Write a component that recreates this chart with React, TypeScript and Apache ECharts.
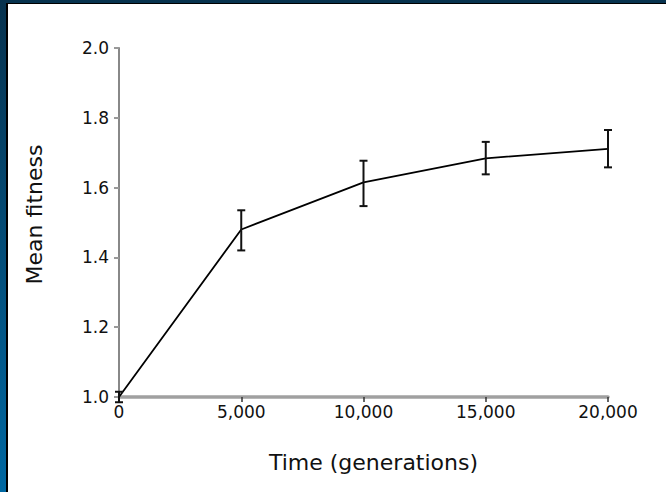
import React, { useEffect, useRef } from "react";
import * as echarts from "echarts";

const GENERATIONS = [0, 5000, 10000, 15000, 20000];
const MEAN_FITNESS = [1.0, 1.48, 1.615, 1.684, 1.711];
const ERR_LOW = [0.985, 1.42, 1.547, 1.638, 1.658];
const ERR_HIGH = [1.015, 1.535, 1.677, 1.731, 1.765];
const Y_MIN = 1.0;
const Y_MAX = 2.0;
const Y_STEP = 0.2;
const X_MIN = 0;
const X_MAX = 20000;
const X_STEP = 5000;
const X_TITLE = "Time (generations)";
const Y_TITLE = "Mean fitness";

const FONT = "DejaVu Sans";

export default function App() {
  const ref = useRef<HTMLDivElement>(null);

  useEffect(() => {
    if (!ref.current) return;
    const chart = echarts.init(ref.current, undefined, { renderer: "svg" });
    const lineData = GENERATIONS.map((g, i) => [g, MEAN_FITNESS[i]]);
    const errData = GENERATIONS.map((g, i) => [g, ERR_LOW[i], ERR_HIGH[i]]);
    chart.setOption({
      animation: false,
      backgroundColor: "#ffffff",
      grid: { left: 111, right: 58, top: 44, bottom: 95, containLabel: false },
      xAxis: {
        type: "value",
        min: X_MIN,
        max: X_MAX,
        interval: X_STEP,
        name: X_TITLE,
        nameLocation: "middle",
        nameGap: 54,
        nameTextStyle: {
          fontFamily: FONT,
          fontSize: 22,
          color: "#111",
          padding: [0, 0, 0, 20],
        },
        axisLine: { show: true, onZero: false, lineStyle: { color: "#a0a0a0", width: 3.5 } },
        axisTick: { show: true, length: 5, lineStyle: { color: "#333", width: 1.5 } },
        splitLine: { show: false },
        axisLabel: {
          margin: 6,
          fontFamily: FONT,
          fontSize: 17,
          color: "#111",
          formatter: (v: number) => v.toLocaleString("en-US"),
        },
      },
      yAxis: {
        type: "value",
        min: Y_MIN,
        max: Y_MAX,
        interval: Y_STEP,
        name: Y_TITLE,
        nameLocation: "middle",
        nameGap: 74,
        nameTextStyle: {
          fontFamily: FONT,
          fontSize: 22,
          color: "#111",
          padding: [0, 0, 0, 16],
        },
        axisLine: { show: true, lineStyle: { color: "#888", width: 2 } },
        axisTick: { show: true, length: 5, lineStyle: { color: "#999", width: 2 } },
        splitLine: { show: false },
        axisLabel: {
          margin: 10,
          fontFamily: FONT,
          fontSize: 17,
          color: "#111",
          formatter: (v: number) => v.toFixed(1),
        },
      },
      series: [
        {
          type: "line",
          data: lineData,
          symbol: "none",
          lineStyle: { color: "#000", width: 1.8 },
          z: 3,
        },
        {
          type: "custom",
          data: errData,
          encode: { x: 0, y: [1, 2] },
          clip: false,
          z: 4,
          renderItem: (params: any, api: any) => {
            const x = api.value(0);
            const lo = api.coord([x, api.value(1)]);
            const hi = api.coord([x, api.value(2)]);
            const cap = 4;
            const style = { stroke: "#111", lineWidth: 2 };
            return {
              type: "group",
              children: [
                { type: "line", shape: { x1: lo[0], y1: lo[1], x2: hi[0], y2: hi[1] }, style },
                { type: "line", shape: { x1: hi[0] - cap, y1: hi[1], x2: hi[0] + cap, y2: hi[1] }, style },
                { type: "line", shape: { x1: lo[0] - cap, y1: lo[1], x2: lo[0] + cap, y2: lo[1] }, style },
              ],
            };
          },
        },
      ],
    });
    return () => chart.dispose();
  }, []);

  return (
    <div
      style={{
        position: "fixed",
        left: 0,
        top: 0,
        width: 666,
        height: 492,
        background: "linear-gradient(to bottom, #07324e, #0068a2)",
        overflow: "hidden",
      }}
    >
      <div
        style={{
          position: "absolute",
          left: 6,
          top: 3,
          width: 660,
          height: 489,
          background: "#000",
        }}
      />
      <div
        ref={ref}
        style={{ position: "absolute", left: 8, top: 4, width: 658, height: 488 }}
      />
    </div>
  );
}
